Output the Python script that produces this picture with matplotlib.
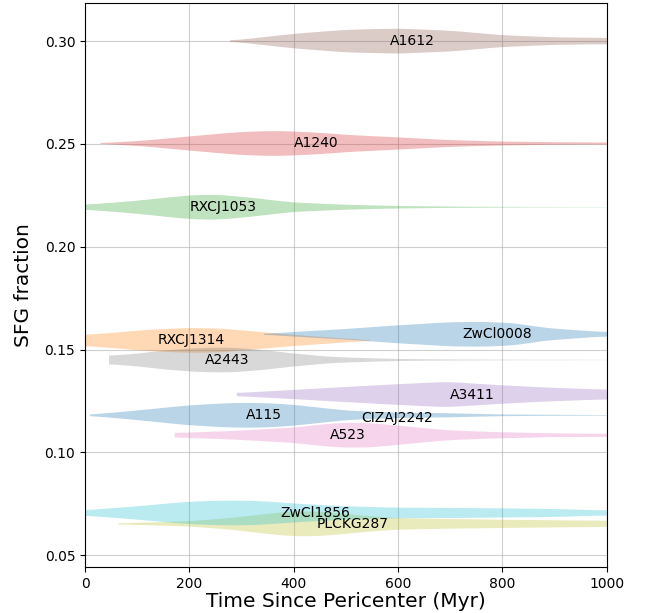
import matplotlib
matplotlib.use("Agg")
import matplotlib.pyplot as plt
import numpy as np

# cluster names, SFG fraction, median time since pericenter (Myr)
clusters = ["A115", "RXCJ1314", "RXCJ1053", "A1240", "A3411", "A1612",
            "A523", "A2443", "PLCKG287", "ZwCl1856", "ZwCl0008", "CIZAJ2242"]
sfg_frac = [0.1180, 0.1544, 0.2192, 0.2502, 0.1281, 0.3000,
            0.1083, 0.1449, 0.0652, 0.0705, 0.1574, 0.1165]
median_time = [342, 203, 265, 444, 743, 628, 503, 273, 512, 441, 789, 599]

# density profiles (time in Myr, relative density)
t_a115 = [10, 86, 197, 280, 340, 395, 501, 592, 693, 795, 900, 1000]
d_a115 = [0.05, 0.33, 0.8, 1.0, 1.0, 0.87, 0.38, 0.22, 0.17, 0.07, 0.04, 0.02]
t_rxcj1314 = [-60, 0, 50, 120, 200, 260, 330, 399, 450, 500, 546]
d_rxcj1314 = [0.4, 0.45, 0.6, 0.85, 1.0, 0.95, 0.7, 0.45, 0.3, 0.15, 0.02]
t_rxcj1053 = [-60, 0, 86, 197, 250, 329, 395, 501, 592, 700, 850, 1000]
d_rxcj1053 = [0.12, 0.19, 0.45, 0.92, 1.0, 0.7, 0.37, 0.19, 0.1, 0.05, 0.02, 0.01]
t_a1240 = [30, 118, 197, 300, 370, 450, 501, 592, 693, 789, 900, 1000]
d_a1240 = [0.02, 0.24, 0.55, 0.92, 1.0, 0.85, 0.68, 0.5, 0.28, 0.16, 0.1, 0.08]
t_a3411 = [291, 395, 501, 592, 693, 789, 885, 985, 1050]
d_a3411 = [0.12, 0.35, 0.6, 0.8, 1.0, 0.75, 0.55, 0.4, 0.38]
t_a1612 = [278, 300, 400, 500, 600, 700, 800, 900, 1000, 1050]
d_a1612 = [0.05, 0.12, 0.58, 0.9, 1.0, 0.83, 0.47, 0.3, 0.25, 0.24]
t_a523 = [172, 278, 395, 480, 540, 592, 693, 789, 900, 1000, 1050]
d_a523 = [0.18, 0.33, 0.6, 0.97, 1.0, 0.8, 0.4, 0.25, 0.15, 0.12, 0.11]
t_a2443 = [46, 100, 150, 220, 280, 340, 399, 469, 520, 597, 700, 850, 1000]
d_a2443 = [0.33, 0.5, 0.75, 0.97, 1.0, 0.8, 0.52, 0.25, 0.17, 0.08, 0.04, 0.02, 0.01]
t_plckg287 = [64, 197, 278, 340, 400, 460, 520, 592, 700, 789, 900, 1000, 1050]
d_plckg287 = [0.04, 0.2, 0.45, 0.75, 1.0, 0.95, 0.7, 0.46, 0.38, 0.33, 0.28, 0.25, 0.24]
t_zwcl1856 = [-60, 0, 100, 197, 280, 340, 395, 500, 592, 700, 789, 900, 985, 1050]
d_zwcl1856 = [0.15, 0.2, 0.5, 0.85, 0.95, 0.9, 0.72, 0.5, 0.4, 0.38, 0.35, 0.3, 0.2, 0.18]
t_zwcl0008 = [343, 395, 501, 592, 700, 760, 820, 885, 985, 1050]
d_zwcl0008 = [0.03, 0.17, 0.43, 0.7, 0.97, 1.0, 0.9, 0.5, 0.2, 0.18]

profiles = {
    "A115": (t_a115, d_a115),
    "RXCJ1314": (t_rxcj1314, d_rxcj1314),
    "RXCJ1053": (t_rxcj1053, d_rxcj1053),
    "A1240": (t_a1240, d_a1240),
    "A3411": (t_a3411, d_a3411),
    "A1612": (t_a1612, d_a1612),
    "A523": (t_a523, d_a523),
    "A2443": (t_a2443, d_a2443),
    "PLCKG287": (t_plckg287, d_plckg287),
    "ZwCl1856": (t_zwcl1856, d_zwcl1856),
    "ZwCl0008": (t_zwcl0008, d_zwcl0008),
}


def make_stats(t, d):
    # resample the read-off profile and soften the corners a bit
    coords = np.linspace(t[0], t[-1], 300)
    vals = np.interp(coords, t, d)
    k = np.exp(-0.5 * (np.arange(-15, 16) / 6.0) ** 2)
    k /= k.sum()
    padded = np.concatenate([np.full(15, vals[0]), vals, np.full(15, vals[-1])])
    vals = np.convolve(padded, k, mode="valid")
    return {"coords": coords, "vals": vals, "mean": np.mean(t),
            "median": np.median(t), "min": t[0], "max": t[-1]}


fig = plt.figure(figsize=(6.49, 6.13), dpi=100)
ax = fig.add_axes([0.131, 0.075, 0.804, 0.920])

for i, name in enumerate(clusters):
    color = "C%d" % (i % 10)
    if name in profiles:
        t, d = profiles[name]
        parts = ax.violin([make_stats(t, d)], positions=[sfg_frac[i]],
                          orientation="horizontal", widths=0.012,
                          showmeans=False, showextrema=False, showmedians=False)
        for body in parts["bodies"]:
            body.set_facecolor(color)
            body.set_edgecolor("none")
            body.set_alpha(0.3)
    ax.text(median_time[i], sfg_frac[i], name, ha="center", va="center",
            fontsize=10)

ax.set_xlim(0, 1000)
ax.set_ylim(0.0442, 0.3185)
ax.set_yticks([0.05, 0.10, 0.15, 0.20, 0.25, 0.30])
ax.grid(True, color="#b0b0b0", alpha=0.6, linewidth=0.8)
ax.set_axisbelow(True)
ax.tick_params(labelsize=10)
ax.set_xlabel("Time Since Pericenter (Myr)", fontsize=14.5, labelpad=1)
ax.set_ylabel("SFG fraction", fontsize=14.5, labelpad=8)

fig.savefig("out.png", dpi=100)
